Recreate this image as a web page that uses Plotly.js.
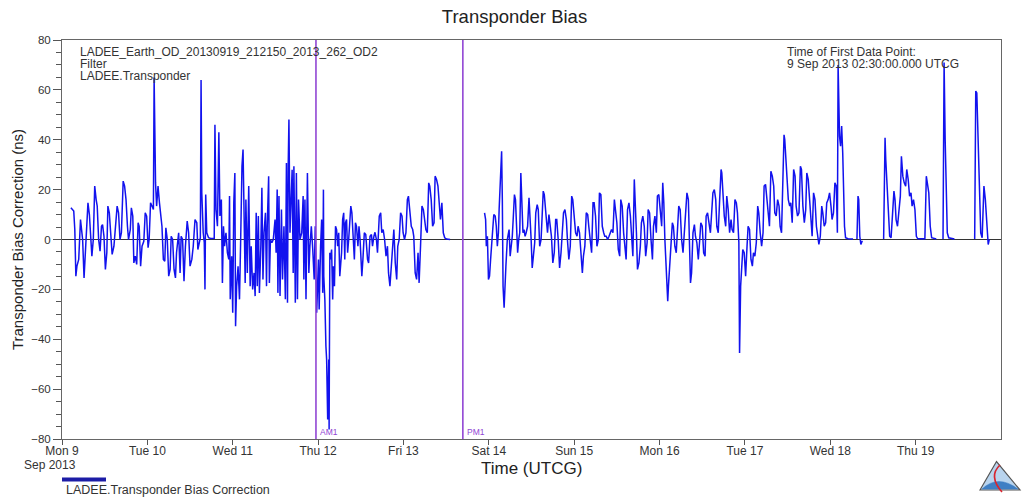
<!DOCTYPE html>
<html>
<head>
<meta charset="utf-8">
<script src="https://cdn.plot.ly/plotly-3.0.1.min.js"></script>
<style>
  html, body { margin: 0; padding: 0; background: #fff; }
  #chart { width: 1029px; height: 497px; }
</style>
</head>
<body>
<div id="chart"></div>
<script>
// ---------------- DATA (hours after 9 Sep 2013 00:00 UTCG, bias in ns) ----------------
const hoursA = [2.5,3.3,3.6,3.9,4.2,4.7,5.2,5.4,5.8,6.2,
  6.6,6.9,7.3,7.7,8.1,8.4,8.8,9.2,9.6,9.9,
  10.3,10.7,11.1,11.4,11.8,12.2,12.6,12.9,13.3,13.7,
  14.1,14.6,15.0,15.5,15.9,16.3,16.7,17.2,17.6,18.0,
  18.4,18.7,19.2,19.5,19.9,20.2,20.6,21.0,21.4,21.7,
  22.1,22.5,23.0,23.4,23.8,24.2,24.5,24.9,25.3,25.7,
  25.9,26.1,26.3,26.6,27.0,27.4,27.7,28.1,28.5,28.9,
  29.2,29.6,30.0,30.4,30.7,31.1,31.5,31.9,32.2,32.8,
  33.2,33.5,33.9,34.3,34.7,35.2,35.6];
const biasA = [12.7,11.4,4.0,-14.7,-10.7,-8.0,8.0,4.0,0,-15.4,
  -5.3,0,14.7,10.0,-2.7,-6.7,0,21.4,16.0,13.4,
  0,-4.7,5.3,6.0,1.3,-12.0,-5.3,13.4,10.7,2.7,
  -6.0,-2.7,5.3,13.4,10.7,0,2.7,23.4,21.4,16.0,
  5.3,0,4.0,12.7,9.4,-9.4,-6.7,-10.0,6.7,5.3,
  -10.7,-2.7,-0.7,10.7,9.4,-3.3,0,14.7,13.4,12.0,
  65,39.4,22.7,13.4,21.4,14.7,10.7,5.3,-8.0,-8.7,
  4.7,0,-14.7,-12.0,1.3,0,-12.0,-15.4,-5.3,2.7,
  -13.4,1.3,0,-16.7,-2.7,7.4,2.7];

const hoursB = [36.0,36.5,36.9,37.4,37.9,38.2,38.5,38.9,39.1,39.3,
  39.7,40.0,40.2,40.4,40.7,41.2,41.8,42.6,42.8,43.0,
  43.3,43.7,44.1,44.4,44.8,45.1,45.4,45.7,46.1,46.5,
  46.9,47.1,47.3,47.7,48.0,48.3,48.6,48.8,49.1,49.5,
  49.9,50.2,50.6,50.9,51.2,51.5,51.7,52.1,52.5,52.9,
  53.2,53.6,54.0,54.3,54.6,54.9,55.2,55.5,55.9,56.2,
  56.5,56.8,57.2,57.5,57.7,58.1,58.3,58.6,59.0,59.4,
  59.9,60.2,60.5,60.7,61.0,61.3,61.7,62.0,62.4,62.8,
  63.1,63.4,63.6,63.8,64.1,64.4,64.7,65.0,65.2,65.6,
  65.9,66.2,66.5,66.9,67.4,67.8,68.0,68.3,68.6,69.0,
  69.4,69.7,70.1,70.5,70.9,71.2,71.6];
const biasB = [-10.7,-8.0,-2.7,8.0,6.7,-4.0,-2.0,0.7,64,18.7,
  2.7,-1.3,-20.0,18.0,2.7,0.7,0.4,0.3,0.5,46.0,
  12.0,5.3,43.0,9.4,16.0,-17.4,5.3,-2.7,2.7,-5.3,
  -8.0,17.4,-24.0,-6.7,-29.4,14.7,26.7,-34.8,-18.7,-10.7,
  -24.0,-2.7,29.4,36.1,16.0,-17.4,16.0,-13.4,21.4,-18.7,
  -2.7,-20.0,-13.4,-22.7,10.7,-18.7,9.4,-21.4,-2.7,20.7,
  -16.0,2.7,10.7,-18.7,5.3,25.4,-17.4,0,-1.3,0,
  8.0,-5.3,20.0,-21.4,17.4,-22.7,12.0,-16.0,5.3,-24.0,
  30.7,-25.4,29.4,48.1,2.7,16.0,28.0,-13.4,29.4,-25.4,
  26.7,-24.0,16.0,0,2.7,17.4,-16.0,16.0,-24.0,26.7,
  -13.4,-2.7,5.3,-4.0,-16.0,5.3,-29.4];

const hoursC = [72.1,72.3,72.7,73.0,73.3,73.5,73.6,73.9,74.2,74.4,
  74.7,75.0,75.1,75.3,75.5,75.8,76.1,76.3,76.6,76.9,
  77.2,77.5,77.8,78.1,78.6,78.9,79.2,79.5,79.7,80.0,
  80.3,80.6,81.0,81.2,81.5,81.9,82.2,82.5,82.8,83.2,
  83.5,83.8,84.0,84.3,84.6,85.0,85.4,85.6,85.9,86.2,
  86.6,87.0,87.3,87.7,88.0,88.4,88.7,89.2,89.6,89.9,
  90.3,90.7,91.1,91.5,91.8,92.2,92.6,92.9,93.3,93.7,
  94.1,94.4,94.8,95.2,95.6,95.9,96.3,96.7,97.1,97.4,
  97.8,98.2,98.6,98.9,99.3,99.7,100.1,100.4,100.8,101.2,
  101.6,101.9,102.3,102.7,103.1,103.4,103.8,104.2,104.6,104.9,
  105.3,105.7,106.1,106.4,106.8,107.2,107.6,108.1,109.1];
const biasC = [-8.0,-28.1,-2.7,8.0,-21.4,20.0,-14.7,-24.1,-42.8,-48.1,
  -72.2,-48.1,-76.2,-5.3,-8.0,-4.0,-24.1,-10.7,-18.7,5.3,
  4.0,-2.7,2.7,-14.7,-5.3,8.0,10.7,-8.0,6.7,8.0,
  -5.3,0,8.0,13.4,10.7,0,-8.0,6.7,5.3,-2.7,
  5.3,0,-8.0,-14.7,-8.0,2.7,2.0,-4.0,-8.0,-9.4,
  1.3,2.0,-2.7,1.3,2.9,0,-5.3,9.4,10.7,2.7,
  4.0,0,-6.7,-2.7,-13.4,-18.7,-9.4,-2.7,4.0,-9.4,
  -16.0,-2.7,0,10.7,9.4,2.7,0,2.7,16.0,17.4,
  10.7,5.3,4.0,1.3,-13.4,-16.0,-5.3,-17.4,-2.7,13.4,
  12.0,8.0,4.0,2.7,22.7,21.4,16.0,5.3,6.7,25.4,
  24.1,21.4,12.0,8.0,14.7,2.7,0.7,0.2,0];

const hoursD = [118.8,119.1,119.3,119.6,119.9,120.2,120.5,120.8,121.2,121.4,
  121.8,122.1,122.4,122.7,122.9,123.3,123.6,123.8,124.0,124.3,
  124.5,124.8,125.2,125.5,125.7,126.0,126.3,126.6,126.9,127.2,
  127.5,127.8,128.1,128.4,128.7,129.0,129.3,129.6,129.9,130.2,
  130.5,130.9,131.3,131.7,131.9,132.2,132.5,132.9,133.2,133.6,
  133.9,134.3,134.7,134.9,135.3,135.6,135.9,136.2,136.5,136.9,
  137.3,137.6,138.0,138.4,138.8,139.1,139.5,139.9,140.3,140.6,
  141.0,141.4,141.8,142.1,142.5,142.9,143.3,143.6,144.0,144.4,
  144.8,145.1,145.5,145.9,146.3,146.6,147.0,147.4,147.8,148.1,
  148.5,148.9,149.3,149.6,150.0,150.4,150.8,151.1,151.5,151.9,
  152.3,152.6,153.0,153.4,153.8,154.1,154.5,154.9,155.3,155.6,
  156.0,156.4,156.8,157.1,157.5,157.9,158.3,158.6,159.0,159.4,
  159.8,160.1,160.5,160.9,161.2,161.5,161.8,162.2,162.6,162.9,
  163.3,163.7,164.1,164.5,164.8,165.2,165.6,166.0,166.3,166.7,
  167.1,167.4,167.8,168.2,168.6,168.9,169.2,169.5,169.9,170.3,
  170.5,170.8,171.2,171.6,171.9,172.3,172.7,173.1,173.4,173.8,
  174.2,174.6,174.9,175.3,175.7,176.1,176.4,176.7,177.0,177.4,
  177.8,178.1,178.5,178.9,179.3,179.6,180.0,180.4,180.8,181.1,
  181.5,181.9,182.3,182.6,183.0,183.4,183.8,184.1,184.5,184.9,
  185.3,185.5,185.8,186.2,186.6,186.9,187.3,187.7,188.1,188.4,
  188.8,189.2,189.6,189.9,190.3,190.5,190.8,191.1,191.4,191.8,
  192.2,192.6];
const biasD = [10.7,8.0,-2.7,1.3,-16.0,-14.7,-8.0,-2.7,6.7,10.0,
  9.4,5.3,-2.7,2.7,12.0,30.7,35.4,16.0,-18.7,-27.4,
  -16.0,-10.7,0,2.7,4.0,-6.7,-2.7,1.3,9.4,18.0,
  16.0,8.0,-5.3,0,2.7,26.7,16.0,2.7,4.0,1.3,
  2.7,5.3,16.7,8.0,0,-11.4,-5.3,-1.3,10.7,14.0,
  12.0,-2.7,0,5.3,19.4,18.0,12.0,10.0,2.7,10.0,
  5.3,1.3,-9.4,-5.3,8.0,8.0,0,-11.4,-5.3,0,
  10.7,12.0,8.0,0,-8.0,-2.7,17.4,16.0,8.0,2.7,
  1.3,5.3,2.7,-6.7,-13.4,-6.7,-2.7,10.7,10.0,5.3,
  -1.3,-5.3,14.7,14.7,9.4,-2.7,0,18.7,18.0,5.3,
  2.7,1.3,1.3,0,1.3,2.7,4.0,2.7,16.0,12.0,
  6.7,-4.0,-6.7,16.0,13.4,2.7,-2.7,-8.0,12.0,14.7,
  9.4,0,-6.7,24.1,16.0,2.7,-12.0,-9.4,-2.7,6.7,
  9.4,5.3,-6.7,-1.3,12.0,10.7,0,-8.0,5.3,9.4,
  2.7,17.4,18.0,12.0,5.3,22.7,14.7,0,-13.4,-24.7,
  -18.7,-10.7,0,6.7,5.3,-2.7,-5.3,9.4,13.4,12.0,
  0,-5.3,2.7,8.0,18.7,16.0,0,-17.4,-13.4,2.7,
  6.0,1.3,-1.3,-8.0,0,6.7,5.3,-5.3,-6.7,9.4,
  10.7,6.7,2.7,9.4,18.7,20.0,16.0,5.3,2.7,16.0,
  28.1,26.7,20.0,9.4,5.3,17.4,12.0,2.7,8.0,4.0,
  2.7,16.0,14.7,10.7,-1.3,-45.5,-18.7,-10.7,-4.0,-5.3,
  -14.7,-2.7];

const hoursE = [192.9,193.3,193.7,194.1,194.4,194.8,195.2,195.6,195.9,196.3,
  196.7,197.1,197.4,197.8,198.2,198.6,198.9,199.3,199.7,200.1,
  200.4,200.8,201.2,201.6,201.9,202.3,202.7,203.0,203.2,203.5,
  203.8,204.2,204.6,204.9,205.3,205.7,206.1,206.4,206.8,207.2,
  207.6,207.9,208.3,208.7,209.1,209.4,209.8,210.2,210.6,210.9,
  211.3,211.7,212.1,212.4,212.8,213.2,213.6,213.9,214.3,214.7,
  215.0,215.4,215.8,216.2,216.5,216.9,217.3,217.7,218.0,218.2,
  218.4,218.6,218.9,219.2,219.5,219.7,220.0,220.3,221.0,222.4];
const biasE = [5.3,4.0,-8.0,-10.7,-5.3,-6.7,-1.3,13.4,10.7,2.7,
  -2.7,2.7,21.4,22.1,16.0,8.0,5.3,27.4,25.4,21.4,
  10.7,9.4,16.0,13.4,5.3,2.7,24.1,42.0,40.1,32.1,
  29.4,16.0,13.4,14.7,6.7,28.1,25.4,13.4,9.4,10.7,
  29.4,28.1,13.4,6.7,12.0,26.7,24.1,16.0,5.3,1.3,
  18.7,16.0,5.3,2.7,-2.0,1.3,13.4,10.7,5.3,6.7,
  14.7,16.0,18.7,13.4,8.0,10.7,22.7,21.4,2.7,70.0,
  56.1,41.4,37.4,45.5,34.8,21.4,5.3,0.7,0.3,0.2];

const hoursF = [223.5,223.8,224.0,224.3,224.6,225.0];
const biasF = [0.2,17.4,16.0,1.3,-2.0,-0.5];

const hoursG = [231.0,231.4,231.6,231.9,232.3,232.7,233.1,233.6,233.9,234.2,
  234.5,234.9,235.3,235.7,236.0,236.4,236.8,237.2,237.5,237.9,
  238.3,238.7,239.0,239.4,239.8,240.2,240.6,242.0,242.6,243.0,
  243.3,243.7,244.1,244.5,245.8];
const biasG = [0.2,40.8,32.1,24.1,10.7,1.3,0.7,10.7,19.4,16.0,
  8.0,5.3,13.4,17.4,33.4,25.4,22.7,21.4,28.1,24.1,
  17.4,18.7,13.4,16.0,12.0,1.3,0.3,0.2,0.3,25.4,
  22.7,18.7,5.3,0.7,0.2];

const hoursH = [247.7,248.0,248.3,248.6,248.9,249.3,250.9];
const biasH = [0.2,71.0,40.1,21.4,2.7,0.7,0.2];

const hoursI = [256.6,256.9,257.2,257.5,257.8,258.1,258.3,258.7,259.2,259.6,259.8,260.1,260.4,260.7];
const biasI = [0.2,59.5,58.8,45.5,33.4,18.7,2.7,0.7,21.4,16.0,10.7,2.7,-2.0,0];

// continuous runs of data (gaps between runs)
const runs = [
  [hoursA.concat(hoursB, hoursC), biasA.concat(biasB, biasC)],
  [hoursD.concat(hoursE), biasD.concat(biasE)],
  [hoursF, biasF],
  [hoursG, biasG],
  [hoursH, biasH],
  [hoursI, biasI]
];

const eventNames = ['AM1', 'PM1'];
const eventTimes = ['2013-09-11 23:24', '2013-09-13 16:42'];

const tickDays = ['2013-09-09','2013-09-10','2013-09-11','2013-09-12','2013-09-13','2013-09-14',
                  '2013-09-15','2013-09-16','2013-09-17','2013-09-18','2013-09-19'];
const tickLabels = ['Mon 9','Tue 10','Wed 11','Thu 12','Fri 13','Sat 14',
                    'Sun 15','Mon 16','Tue 17','Wed 18','Thu 19'];
const yTicks = [-80,-60,-40,-20,0,20,40,60,80];

// ---------------- BUILD ----------------
const base = Date.UTC(2013, 8, 9);
function toDate(h) {
  return new Date(base + h * 3600000).toISOString().slice(0, 19).replace('T', ' ');
}
const xs = [], ys = [];
runs.forEach((r, i) => {
  if (i > 0) { xs.push(toDate(r[0][0] - 0.5)); ys.push(null); }
  r[0].forEach((h, k) => { xs.push(toDate(h)); ys.push(r[1][k]); });
});

const FONT = 'Liberation Sans, Arial, Helvetica, sans-serif';
const TXT = '#333333';
const PURPLE = '#9146d4';

// pixel -> paper helpers for decorations outside the plot
const L = 62, R = 1001, T = 40, B = 439;
const px = x => (x - L) / (R - L);
const py = y => (B - y) / (B - T);
const P = (x, y) => px(x).toFixed(5) + ',' + py(y).toFixed(5);

const shapes = [];
eventTimes.forEach(t => {
  shapes.push({type: 'line', xref: 'x', yref: 'paper', x0: t, x1: t, y0: 0, y1: 1,
               line: {color: PURPLE, width: 1.6}});
});
// legend sample line
shapes.push({type: 'line', xref: 'paper', yref: 'paper', x0: px(62), x1: px(106), y0: py(479.5), y1: py(479.5),
             line: {color: '#1c1ca6', width: 4}});
// logo
shapes.push({type: 'path', xref: 'paper', yref: 'paper',
  path: 'M' + P(980, 490) + ' L' + P(996.5, 461.5) + ' L' + P(1020, 490) + ' Z',
  fillcolor: '#b9d4ee', line: {color: '#555555', width: 1.2}});
shapes.push({type: 'path', xref: 'paper', yref: 'paper',
  path: 'M' + P(982, 489) + ' Q' + P(998, 474) + ' ' + P(1018, 489) + ' Z',
  fillcolor: '#3f7fc4', line: {color: '#3f7fc4', width: 0.5}});
shapes.push({type: 'path', xref: 'paper', yref: 'paper',
  path: 'M' + P(1000, 465) + ' Q' + P(988, 476) + ' ' + P(1002, 492),
  line: {color: '#d8252f', width: 1.6}});

const annotations = [
  {text: 'LADEE_Earth_OD_20130919_212150_2013_262_OD2', x: px(78), y: py(51.5)},
  {text: 'Filter', x: px(78), y: py(63.5)},
  {text: 'LADEE.Transponder', x: px(78), y: py(75.5)},
  {text: 'Time of First Data Point:', x: px(785), y: py(52)},
  {text: '9 Sep 2013 02:30:00.000 UTCG', x: px(785), y: py(64)}
].map(a => Object.assign({xref: 'paper', yref: 'paper', xanchor: 'left', yanchor: 'middle',
  showarrow: false, font: {family: FONT, size: 12, color: TXT}}, a));

annotations.push({text: 'Sep 2013', xref: 'paper', yref: 'paper', x: px(50), y: py(465),
  xanchor: 'center', yanchor: 'middle', showarrow: false, font: {family: FONT, size: 12, color: TXT}});
annotations.push({text: 'Time (UTCG)', xref: 'paper', yref: 'paper', x: px(531), y: py(468),
  xanchor: 'center', yanchor: 'middle', showarrow: false, font: {family: FONT, size: 17, color: '#222222'}});
annotations.push({text: 'LADEE.Transponder Bias Correction', xref: 'paper', yref: 'paper', x: px(64), y: py(489.5),
  xanchor: 'left', yanchor: 'middle', showarrow: false, font: {family: FONT, size: 12.5, color: TXT}});
eventTimes.forEach((t, i) => {
  annotations.push({text: eventNames[i], xref: 'x', yref: 'paper', x: t, y: py(432), xshift: 2,
    xanchor: 'left', yanchor: 'middle', showarrow: false, font: {family: FONT, size: 8.5, color: PURPLE}});
});

const data = [{
  type: 'scatter', mode: 'lines', x: xs, y: ys,
  name: 'LADEE.Transponder Bias Correction',
  line: {color: '#1212ee', width: 1.5},
  connectgaps: false, showlegend: false, hoverinfo: 'x+y'
}];

const layout = {
  width: 1029, height: 497,
  margin: {l: L, r: 1029 - R, t: T, b: 497 - B, pad: 0},
  paper_bgcolor: '#ffffff', plot_bgcolor: '#ffffff',
  font: {family: FONT, color: TXT},
  showlegend: false,
  title: {text: 'Transponder Bias', x: 0.5, xref: 'container', xanchor: 'center',
          y: 1 - 17 / 497, yref: 'container', yanchor: 'middle',
          font: {family: FONT, size: 18.5, color: '#222222'}},
  xaxis: {
    type: 'date', range: ['2013-09-09 00:00', '2013-09-20 00:00'],
    tickmode: 'array', tickvals: tickDays, ticktext: tickLabels,
    ticks: 'outside', ticklen: 5, tickcolor: '#555555', tickwidth: 1,
    ticklabelstandoff: -4,
    tickfont: {family: FONT, size: 12, color: TXT},
    showgrid: false, zeroline: false,
    showline: true, mirror: true, linecolor: '#666666', linewidth: 1,
    automargin: false
  },
  yaxis: {
    range: [-80, 80], tickmode: 'array', tickvals: yTicks,
    ticks: 'outside', ticklen: 8, tickcolor: '#555555', tickwidth: 1,
    minor: {dtick: 5, ticks: 'outside', ticklen: 5, tickcolor: '#555555', showgrid: false},
    tickfont: {family: FONT, size: 11.5, color: TXT},
    showgrid: false,
    zeroline: true, zerolinecolor: '#333333', zerolinewidth: 1,
    showline: true, mirror: true, linecolor: '#666666', linewidth: 1,
    title: {text: 'Transponder Bias Correction (ns)', font: {family: FONT, size: 15, color: '#222222'}, standoff: 3},
    automargin: false
  },
  shapes: shapes,
  annotations: annotations
};

Plotly.newPlot('chart', data, layout, {displayModeBar: false, staticPlot: true});
</script>
</body>
</html>
